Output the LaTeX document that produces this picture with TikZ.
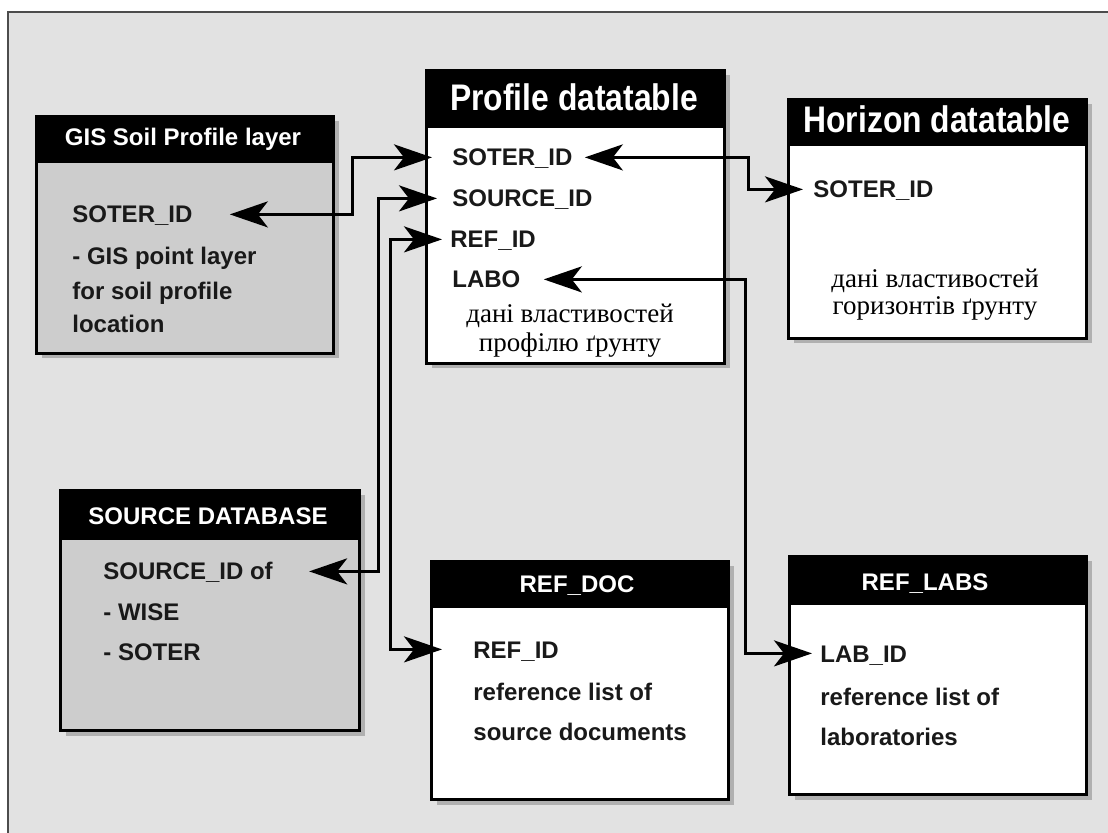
\documentclass[tikz,border=0pt]{standalone}
\usepackage{fontspec}
\setmainfont{Liberation Serif}
\newfontfamily\arial{Liberation Sans}
\usetikzlibrary{arrows.meta,shadows}
\definecolor{bg}{RGB}{226,226,226}
\definecolor{boxgray}{RGB}{205,205,205}
\definecolor{ink}{RGB}{25,25,25}
\begin{document}
\begin{tikzpicture}[x=0.5pt,y=-0.5pt,
  tbl/.style={draw=black, line width=1.5pt, anchor=north west, inner sep=0pt,
    drop shadow={shadow xshift=2.5pt, shadow yshift=-2.5pt, opacity=0.5}},
  hdr/.style={fill=black, draw=black, line width=1.5pt, anchor=north west, inner sep=0pt},
  htxt/.style={text=white, font=\arial\bfseries\fontsize{12}{14}\selectfont, anchor=base, inner sep=0pt},
  ttl/.style={text=white, font=\arial\bfseries\fontsize{18.5}{20}\selectfont, anchor=base, inner sep=0pt},
  body/.style={text=ink, font=\arial\bfseries\fontsize{12}{14}\selectfont, anchor=base west,
    inner sep=0pt, text height=8.6pt, text depth=0pt},
  cyr/.style={text=black, font=\fontsize{13.5}{15}\selectfont, anchor=base, inner sep=0pt},
  conn/.style={line width=1.5pt, draw=black,
    {Stealth[length=19pt,width=13pt,inset=5pt]}-{Stealth[length=19pt,width=13pt,inset=5pt]}},
]
\useasboundingbox (0,0) rectangle (1108,833);
\fill[white] (0,0) rectangle (1108,833);
\fill[bg] (8,12) rectangle (1108,833);
\draw[black!70, line width=0.7pt] (8,833) -- (8,12) -- (1108,12);

% GIS Soil Profile layer
\node[tbl, fill=boxgray, minimum width=148.5pt, minimum height=118.5pt] (gis) at (35,115) {};
\node[hdr, minimum width=148.5pt, minimum height=22.5pt] (gish) at (35,115) {};
\node[htxt] (gist) at (183,146) {GIS Soil Profile layer};
\node[body] (g1) at (72,223) {SOTER\_ID};
\node[body] (g2) at (72,265) {- GIS point layer};
\node[body] (g3) at (72,300) {for soil profile};
\node[body] (g4) at (72,333) {location};

% Profile datatable
\node[tbl, fill=white, minimum width=149pt, minimum height=146.5pt] (prof) at (425,69) {};
\node[hdr, minimum width=149pt, minimum height=28pt] (profh) at (425,69) {};
\node[ttl] (proft) at (574,111) {\scalebox{0.86}[1]{Profile datatable}};
\node[body] (p1) at (452,166) {SOTER\_ID};
\node[body] (p2) at (452,207) {SOURCE\_ID};
\node[body] (p3) at (450,248) {REF\_ID};
\node[body] (p4) at (452,288) {LABO};
\node[cyr] (pc1) at (570,323) {дані властивостей};
\node[cyr] (pc2) at (570,352) {профілю ґрунту};

% Horizon datatable
\node[tbl, fill=white, minimum width=149pt, minimum height=119.5pt] (hor) at (787,98) {};
\node[hdr, minimum width=149pt, minimum height=22.5pt] (horh) at (787,98) {};
\node[ttl] (hort) at (937,133) {\scalebox{0.86}[1]{Horizon datatable}};
\node[body] (h1) at (813,198) {SOTER\_ID};
\node[cyr] (hc1) at (935,288) {дані властивостей};
\node[cyr] (hc2) at (935,315) {горизонтів ґрунту};

% SOURCE DATABASE
\node[tbl, fill=boxgray, minimum width=149.5pt, minimum height=120pt] (src) at (59,489) {};
\node[hdr, minimum width=149.5pt, minimum height=24pt] (srch) at (59,489) {};
\node[htxt] (srct) at (208,525) {SOURCE DATABASE};
\node[body] (s1) at (103,580) {SOURCE\_ID of};
\node[body] (s2) at (103,620) {- WISE};
\node[body] (s3) at (103,661) {- SOTER};

% REF_DOC
\node[tbl, fill=white, minimum width=148.5pt, minimum height=119pt] (rd) at (430,560) {};
\node[hdr, minimum width=148.5pt, minimum height=22.5pt] (rdh) at (430,560) {};
\node[htxt] (rdt) at (577,593) {REF\_DOC};
\node[body] (r1) at (473,658) {REF\_ID};
\node[body] (r2) at (473,700) {reference list of};
\node[body] (r3) at (473,740) {source documents};

% REF_LABS
\node[tbl, fill=white, minimum width=148.5pt, minimum height=119pt] (rl) at (788,555) {};
\node[hdr, minimum width=148.5pt, minimum height=23.5pt] (rlh) at (788,555) {};
\node[htxt] (rlt) at (925,590) {REF\_LABS};
\node[body] (l1) at (820,662) {LAB\_ID};
\node[body] (l2) at (820,705) {reference list of};
\node[body] (l3) at (820,745) {laboratories};

% connectors
\draw[conn] ([xshift=18.5pt]g1.east) -| (352,0 |- p1.west) -- ([xshift=-10pt]p1.west);
\draw[conn] ([xshift=18pt]s1.east) -| (378,0 |- p2.west) -- ([xshift=-7.5pt]p2.west);
\draw[conn] ([xshift=-15.5pt]r1.west) -| (390,0 |- p3.west) -- ([xshift=-4pt]p3.west);
\draw[conn] ([xshift=6pt]p1.east) -| (748,0 |- h1.west) -- ([xshift=-5pt]h1.west);
\draw[conn] ([xshift=11.5pt]p4.east) -| (745,0 |- l1.west) -- ([xshift=-4pt]l1.west);
\end{tikzpicture}
\end{document}
